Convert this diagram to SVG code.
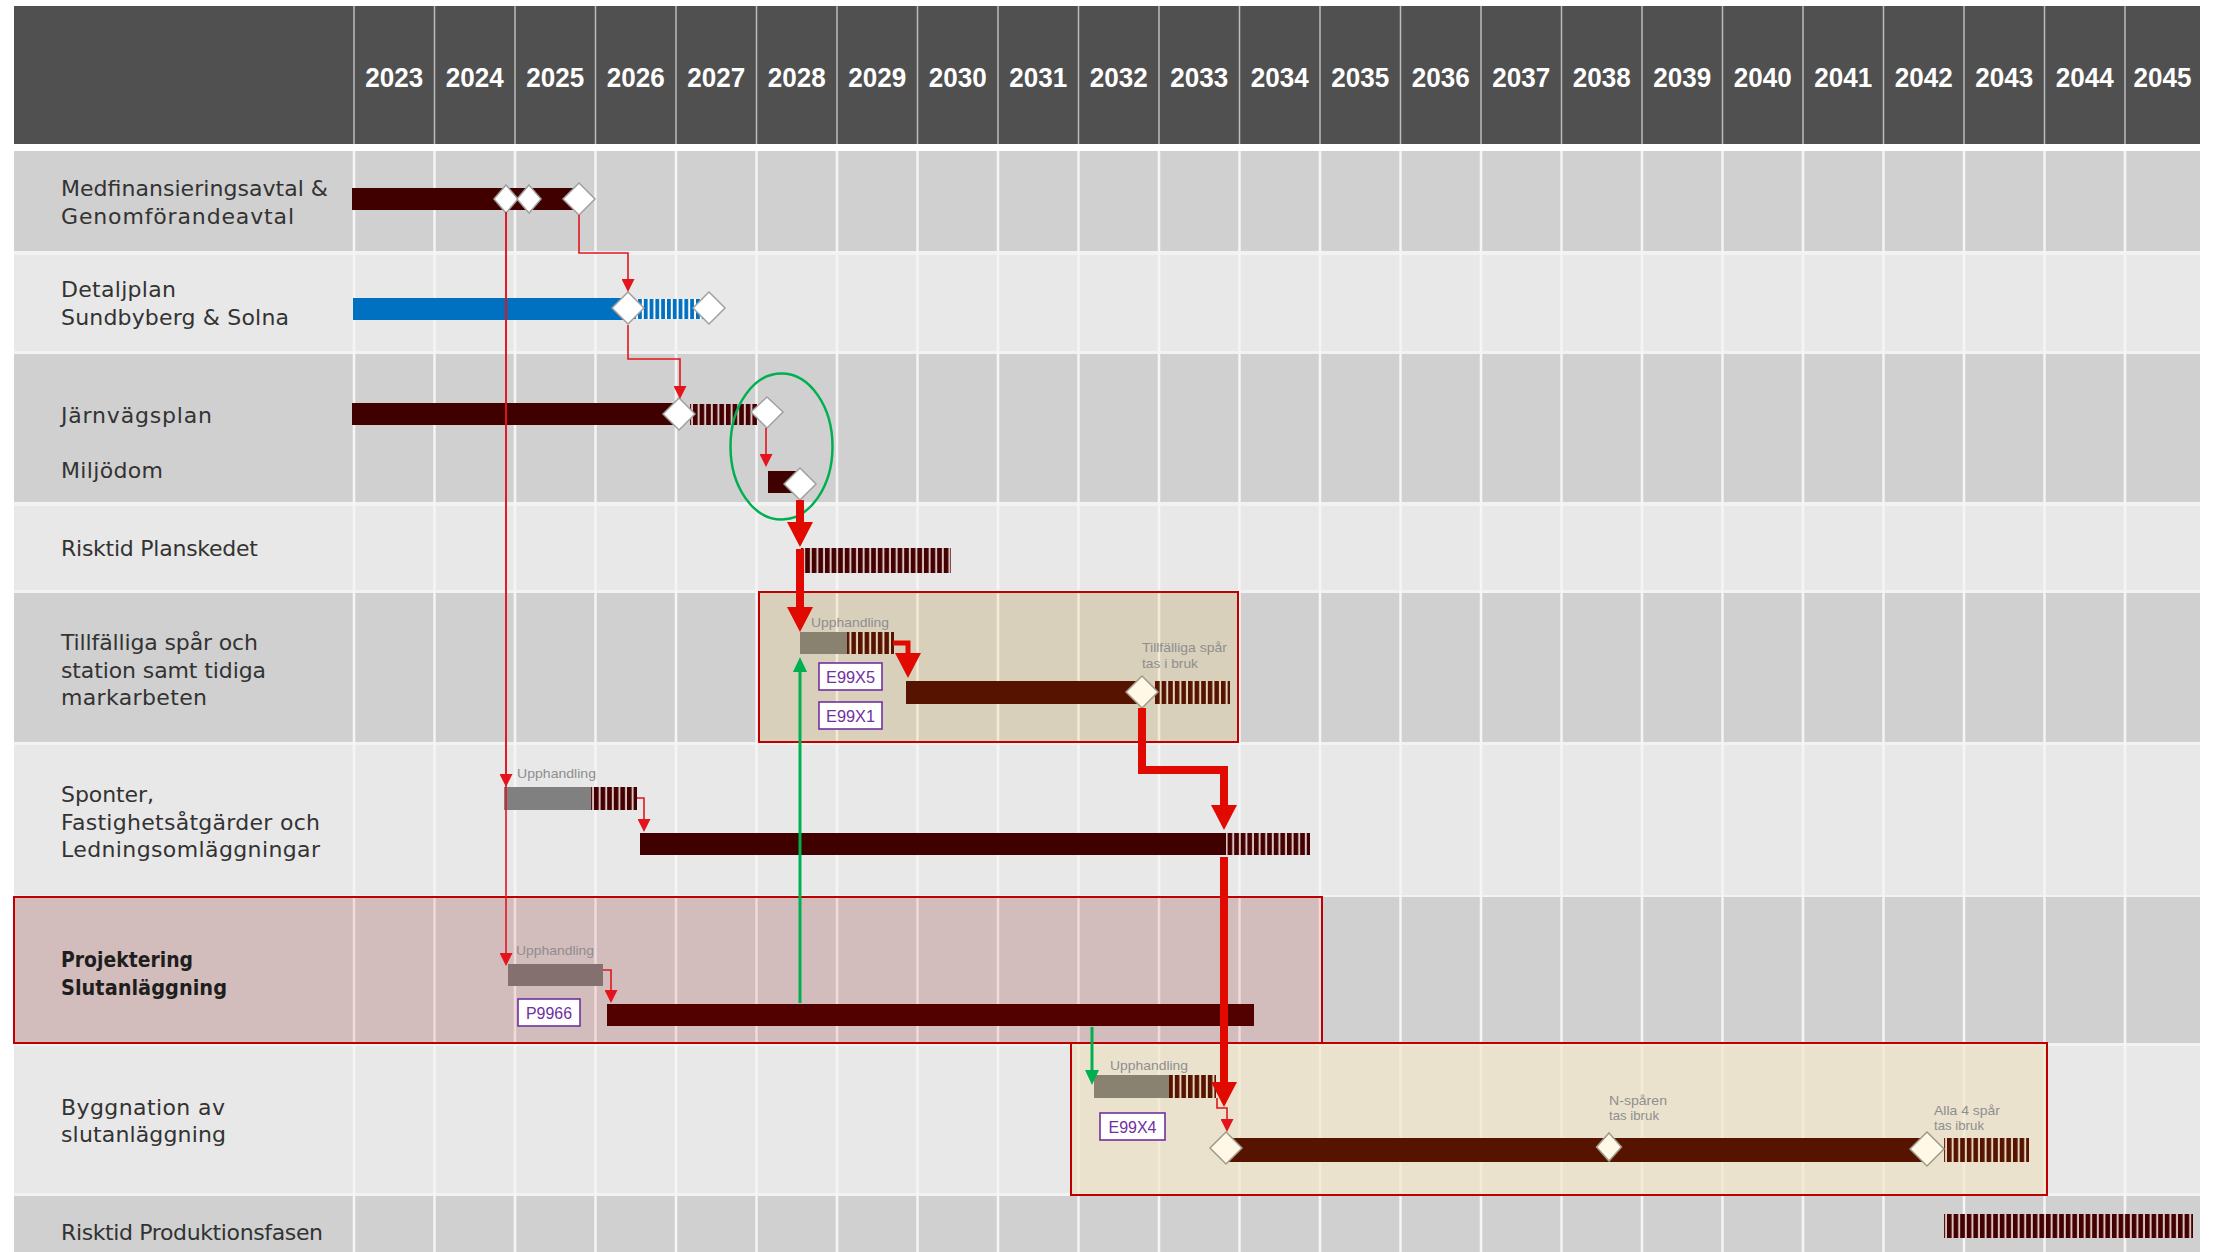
<svg xmlns="http://www.w3.org/2000/svg" width="2219" height="1252" viewBox="0 0 2219 1252">
<style>
.yr{font-family:"Liberation Sans",Arial,sans-serif;font-weight:bold;font-size:28px;fill:#ffffff;text-anchor:middle}
.lbl{font-family:"DejaVu Sans",Verdana,sans-serif;font-size:22px;fill:#333333}
.lblb{font-family:"DejaVu Sans",Verdana,sans-serif;font-size:22px;font-weight:bold;fill:#1e1e1e}
.sm{font-family:"Liberation Sans",Arial,sans-serif;font-size:13.5px;fill:#8e8e8e}
.code{font-family:"Liberation Sans Narrow","Liberation Sans",Arial,sans-serif;font-size:17px;fill:#7030a0;text-anchor:middle}
.codebox{fill:#ffffff;stroke:#7030a0;stroke-width:1.6}
.dia{fill:#ffffff;stroke:#a0a0a0;stroke-width:1.5}
.diac{fill:#fff8e6;stroke:#a09a88;stroke-width:1.5}
.bar{fill:#400000}
.barb{fill:#561400}
.thin{fill:none;stroke:#e3141c;stroke-width:1.6}
.thick{fill:none;stroke:#e00a00;stroke-width:8;stroke-linejoin:miter}
.mid{fill:none;stroke:#e00a00;stroke-width:5;stroke-linejoin:miter}
.green{fill:none;stroke:#00b050;stroke-width:3}
.grid{stroke:#f5f5f5;stroke-width:2.5}
.hgrid{stroke:#bdbdbd;stroke-width:1.5}
.box{stroke:#c00000;stroke-width:2}
</style>
<defs>
<marker id="aThin" viewBox="0 0 13 13" markerWidth="13" markerHeight="13" refX="0" refY="6.5" orient="auto" markerUnits="userSpaceOnUse"><path d="M0,0 L13,6.5 L0,13 z" fill="#e3141c"/></marker>
<marker id="aThick" viewBox="0 0 25 26" markerWidth="25" markerHeight="26" refX="0" refY="13" orient="auto" markerUnits="userSpaceOnUse"><path d="M0,0 L25,13 L0,26 z" fill="#e00a00"/></marker>
<marker id="aGreen" viewBox="0 0 15 14" markerWidth="15" markerHeight="14" refX="0" refY="7" orient="auto" markerUnits="userSpaceOnUse"><path d="M0,0 L15,7 L0,14 z" fill="#00b050"/></marker>
<pattern id="stD" patternUnits="userSpaceOnUse" width="6.6" height="60"><rect width="6.6" height="60" fill="#dcc2c2"/><rect width="4.6" height="60" fill="#420000"/></pattern>
<pattern id="stB" patternUnits="userSpaceOnUse" width="6.6" height="60"><rect width="6.6" height="60" fill="#e6d6c0"/><rect width="4.6" height="60" fill="#561400"/></pattern>
<pattern id="stBlue" patternUnits="userSpaceOnUse" width="5.8" height="60"><rect width="5.8" height="60" fill="#ffffff"/><rect width="3.8" height="60" fill="#0070c0"/></pattern>
</defs>

<rect x="0" y="0" width="2219" height="1252" fill="#ffffff"/>

<g id="header">
<rect x="14" y="6" width="2186" height="138" fill="#505050"/>
<g class="hgrid">
<line x1="354" y1="6" x2="354" y2="144"/><line x1="434.5" y1="6" x2="434.5" y2="144"/><line x1="515" y1="6" x2="515" y2="144"/><line x1="595.5" y1="6" x2="595.5" y2="144"/><line x1="676" y1="6" x2="676" y2="144"/><line x1="756.5" y1="6" x2="756.5" y2="144"/><line x1="837" y1="6" x2="837" y2="144"/><line x1="917.5" y1="6" x2="917.5" y2="144"/><line x1="998" y1="6" x2="998" y2="144"/><line x1="1078.5" y1="6" x2="1078.5" y2="144"/><line x1="1159" y1="6" x2="1159" y2="144"/><line x1="1239.5" y1="6" x2="1239.5" y2="144"/><line x1="1320" y1="6" x2="1320" y2="144"/><line x1="1400.5" y1="6" x2="1400.5" y2="144"/><line x1="1481" y1="6" x2="1481" y2="144"/><line x1="1561.5" y1="6" x2="1561.5" y2="144"/><line x1="1642" y1="6" x2="1642" y2="144"/><line x1="1722.5" y1="6" x2="1722.5" y2="144"/><line x1="1803" y1="6" x2="1803" y2="144"/><line x1="1883.5" y1="6" x2="1883.5" y2="144"/><line x1="1964" y1="6" x2="1964" y2="144"/><line x1="2044.5" y1="6" x2="2044.5" y2="144"/><line x1="2125" y1="6" x2="2125" y2="144"/>
</g>
<text class="yr" x="394.3" y="87" textLength="58" lengthAdjust="spacingAndGlyphs">2023</text>
<text class="yr" x="474.8" y="87" textLength="58" lengthAdjust="spacingAndGlyphs">2024</text>
<text class="yr" x="555.3" y="87" textLength="58" lengthAdjust="spacingAndGlyphs">2025</text>
<text class="yr" x="635.8" y="87" textLength="58" lengthAdjust="spacingAndGlyphs">2026</text>
<text class="yr" x="716.3" y="87" textLength="58" lengthAdjust="spacingAndGlyphs">2027</text>
<text class="yr" x="796.8" y="87" textLength="58" lengthAdjust="spacingAndGlyphs">2028</text>
<text class="yr" x="877.3" y="87" textLength="58" lengthAdjust="spacingAndGlyphs">2029</text>
<text class="yr" x="957.8" y="87" textLength="58" lengthAdjust="spacingAndGlyphs">2030</text>
<text class="yr" x="1038.3" y="87" textLength="58" lengthAdjust="spacingAndGlyphs">2031</text>
<text class="yr" x="1118.8" y="87" textLength="58" lengthAdjust="spacingAndGlyphs">2032</text>
<text class="yr" x="1199.3" y="87" textLength="58" lengthAdjust="spacingAndGlyphs">2033</text>
<text class="yr" x="1279.8" y="87" textLength="58" lengthAdjust="spacingAndGlyphs">2034</text>
<text class="yr" x="1360.3" y="87" textLength="58" lengthAdjust="spacingAndGlyphs">2035</text>
<text class="yr" x="1440.8" y="87" textLength="58" lengthAdjust="spacingAndGlyphs">2036</text>
<text class="yr" x="1521.3" y="87" textLength="58" lengthAdjust="spacingAndGlyphs">2037</text>
<text class="yr" x="1601.8" y="87" textLength="58" lengthAdjust="spacingAndGlyphs">2038</text>
<text class="yr" x="1682.3" y="87" textLength="58" lengthAdjust="spacingAndGlyphs">2039</text>
<text class="yr" x="1762.8" y="87" textLength="58" lengthAdjust="spacingAndGlyphs">2040</text>
<text class="yr" x="1843.3" y="87" textLength="58" lengthAdjust="spacingAndGlyphs">2041</text>
<text class="yr" x="1923.8" y="87" textLength="58" lengthAdjust="spacingAndGlyphs">2042</text>
<text class="yr" x="2004.3" y="87" textLength="58" lengthAdjust="spacingAndGlyphs">2043</text>
<text class="yr" x="2084.8" y="87" textLength="58" lengthAdjust="spacingAndGlyphs">2044</text>
<text class="yr" x="2162.5" y="87" textLength="58" lengthAdjust="spacingAndGlyphs">2045</text>
</g>

<g id="rows">
<rect x="14" y="151" width="2186" height="1101" fill="#f2f2f2"/>
<rect x="14" y="151" width="2186" height="100" fill="#d0d0d0"/>
<rect x="14" y="255" width="2186" height="96" fill="#e8e8e8"/>
<rect x="14" y="354" width="2186" height="148" fill="#d0d0d0"/>
<rect x="14" y="506" width="2186" height="84" fill="#e8e8e8"/>
<rect x="14" y="593" width="2186" height="149" fill="#d0d0d0"/>
<rect x="14" y="745" width="2186" height="150" fill="#e8e8e8"/>
<rect x="14" y="897" width="2186" height="146" fill="#d0d0d0"/>
<rect x="14" y="1046" width="2186" height="147" fill="#e8e8e8"/>
<rect x="14" y="1196" width="2186" height="56" fill="#d0d0d0"/>
<g class="grid">
<line x1="354" y1="151" x2="354" y2="1252"/><line x1="434.5" y1="151" x2="434.5" y2="1252"/><line x1="515" y1="151" x2="515" y2="1252"/><line x1="595.5" y1="151" x2="595.5" y2="1252"/><line x1="676" y1="151" x2="676" y2="1252"/><line x1="756.5" y1="151" x2="756.5" y2="1252"/><line x1="837" y1="151" x2="837" y2="1252"/><line x1="917.5" y1="151" x2="917.5" y2="1252"/><line x1="998" y1="151" x2="998" y2="1252"/><line x1="1078.5" y1="151" x2="1078.5" y2="1252"/><line x1="1159" y1="151" x2="1159" y2="1252"/><line x1="1239.5" y1="151" x2="1239.5" y2="1252"/><line x1="1320" y1="151" x2="1320" y2="1252"/><line x1="1400.5" y1="151" x2="1400.5" y2="1252"/><line x1="1481" y1="151" x2="1481" y2="1252"/><line x1="1561.5" y1="151" x2="1561.5" y2="1252"/><line x1="1642" y1="151" x2="1642" y2="1252"/><line x1="1722.5" y1="151" x2="1722.5" y2="1252"/><line x1="1803" y1="151" x2="1803" y2="1252"/><line x1="1883.5" y1="151" x2="1883.5" y2="1252"/><line x1="1964" y1="151" x2="1964" y2="1252"/><line x1="2044.5" y1="151" x2="2044.5" y2="1252"/><line x1="2125" y1="151" x2="2125" y2="1252"/>
</g>
</g>

<g id="phase-boxes">
<rect id="box-tillfalliga" class="box" x="759" y="592" width="479" height="150" fill="rgb(245,210,130)" fill-opacity="0.26"/>
<rect id="box-projektering" class="box" x="14" y="897" width="1308" height="146" fill="rgb(223,108,108)" fill-opacity="0.2"/>
<rect id="box-byggnation" class="box" x="1071" y="1043" width="976" height="152" fill="rgb(245,210,130)" fill-opacity="0.26"/>
</g>

<g id="labels">
<text class="lbl" x="61" y="196" textLength="267">Medfinansieringsavtal &amp;</text>
<text class="lbl" x="61" y="224" textLength="233">Genomförandeavtal</text>
<text class="lbl" x="61" y="297" textLength="115">Detaljplan</text>
<text class="lbl" x="61" y="325" textLength="228">Sundbyberg &amp; Solna</text>
<text class="lbl" x="61" y="423" textLength="151">Järnvägsplan</text>
<text class="lbl" x="61" y="478" textLength="102">Miljödom</text>
<text class="lbl" x="61" y="556" textLength="197">Risktid Planskedet</text>
<text class="lbl" x="61" y="650" textLength="197">Tillfälliga spår och</text>
<text class="lbl" x="61" y="678" textLength="205">station samt tidiga</text>
<text class="lbl" x="61" y="705" textLength="146">markarbeten</text>
<text class="lbl" x="61" y="802" textLength="93">Sponter,</text>
<text class="lbl" x="61" y="830" textLength="259">Fastighetsåtgärder och</text>
<text class="lbl" x="61" y="857" textLength="259">Ledningsomläggningar</text>
<text class="lblb" x="61" y="967" textLength="132" lengthAdjust="spacingAndGlyphs">Projektering</text>
<text class="lblb" x="61" y="995" textLength="166" lengthAdjust="spacingAndGlyphs">Slutanläggning</text>
<text class="lbl" x="61" y="1115" textLength="164">Byggnation av</text>
<text class="lbl" x="61" y="1142" textLength="165">slutanläggning</text>
<text class="lbl" x="61" y="1240" textLength="262">Risktid Produktionsfasen</text>
</g>

<g id="task-medfinansiering">
<rect class="bar" x="352" y="188" width="227" height="22"/>
<path class="dia" d="M506,185 L518,199 L506,213 L494,199 z"/>
<path class="dia" d="M529,185 L541,199 L529,213 L517,199 z"/>
<path class="dia" d="M579,183 L595,199 L579,215 L563,199 z"/>
</g>

<g id="task-detaljplan">
<rect x="353" y="298" width="275" height="22" fill="#0070c0"/>
<rect x="630" y="299" width="73" height="20" fill="url(#stBlue)"/>
<path class="dia" d="M628,292 L644,308 L628,324 L612,308 z"/>
<path class="dia" d="M709,292 L725,308 L709,324 L693,308 z"/>
</g>

<g id="task-jarnvagsplan">
<rect class="bar" x="352" y="403" width="327" height="22"/>
<rect x="690" y="404" width="67" height="21" fill="url(#stD)"/>
<path class="dia" d="M679,398 L695,414 L679,430 L663,414 z"/>
<path class="dia" d="M767,397 L783,412 L767,428 L751,412 z"/>
</g>

<g id="task-miljodom">
<rect class="bar" x="768" y="471" width="32" height="22"/>
<path class="dia" d="M800,468 L816,484 L800,500 L784,484 z"/>
<ellipse cx="781.5" cy="446.5" rx="51" ry="73" fill="none" stroke="#00b050" stroke-width="2.5"/>
</g>

<g id="task-risktid-plan">
<rect x="801" y="548" width="150" height="25" fill="url(#stD)"/>
</g>

<g id="task-tillfalliga">
<text class="sm" x="811" y="627" textLength="78" lengthAdjust="spacingAndGlyphs">Upphandling</text>
<rect x="800" y="632" width="47" height="22" fill="#8a8270"/>
<rect x="847" y="632" width="47" height="22" fill="url(#stB)"/>
<rect class="barb" x="906" y="681" width="236" height="23"/>
<rect x="1155" y="681" width="75" height="23" fill="url(#stB)"/>
<path class="diac" d="M1142,676 L1158,692 L1142,708 L1126,692 z"/>
<text class="sm" x="1142" y="652" font-size="13" textLength="85" lengthAdjust="spacingAndGlyphs">Tillfälliga spår</text>
<text class="sm" x="1142" y="668" font-size="13" textLength="56" lengthAdjust="spacingAndGlyphs">tas i bruk</text>
<rect class="codebox" x="819" y="663" width="63" height="27"/>
<text class="code" x="850.5" y="683" textLength="49" lengthAdjust="spacingAndGlyphs">E99X5</text>
<rect class="codebox" x="819" y="702" width="63" height="27"/>
<text class="code" x="850.5" y="722" textLength="49" lengthAdjust="spacingAndGlyphs">E99X1</text>
</g>

<g id="task-sponter">
<text class="sm" x="517" y="778" textLength="79" lengthAdjust="spacingAndGlyphs">Upphandling</text>
<rect x="504" y="787" width="87" height="23" fill="#808080"/>
<rect x="591" y="787" width="46" height="23" fill="url(#stD)"/>
<rect class="bar" x="640" y="833" width="586" height="22"/>
<rect x="1226" y="833" width="84" height="22" fill="url(#stD)"/>
</g>

<g id="task-projektering">
<text class="sm" x="516" y="955" textLength="78" lengthAdjust="spacingAndGlyphs">Upphandling</text>
<rect x="508" y="964" width="95" height="22" fill="#857070"/>
<rect class="codebox" x="518" y="999" width="62" height="27"/>
<text class="code" x="549" y="1019" textLength="46" lengthAdjust="spacingAndGlyphs">P9966</text>
<rect x="607" y="1004" width="647" height="22" fill="#520000"/>
</g>

<g id="task-byggnation">
<text class="sm" x="1110" y="1070" textLength="78" lengthAdjust="spacingAndGlyphs">Upphandling</text>
<rect x="1094" y="1075" width="75" height="23" fill="#8a8270"/>
<rect x="1169" y="1075" width="47" height="23" fill="url(#stB)"/>
<rect class="codebox" x="1100" y="1113" width="65" height="27"/>
<text class="code" x="1132.5" y="1133" textLength="48" lengthAdjust="spacingAndGlyphs">E99X4</text>
<rect class="barb" x="1226" y="1138" width="701" height="24"/>
<rect x="1944" y="1138" width="85" height="24" fill="url(#stB)"/>
<path class="diac" d="M1226,1132 L1242,1148 L1226,1164 L1210,1148 z"/>
<path class="diac" d="M1609,1133 L1621.5,1147 L1609,1161 L1596.5,1147 z"/>
<path class="diac" d="M1927,1132 L1944,1149 L1927,1166 L1910,1149 z"/>
<text class="sm" x="1609" y="1105" font-size="13" textLength="58" lengthAdjust="spacingAndGlyphs">N-spåren</text>
<text class="sm" x="1609" y="1120" font-size="13" textLength="50" lengthAdjust="spacingAndGlyphs">tas ibruk</text>
<text class="sm" x="1934" y="1115" font-size="13" textLength="66" lengthAdjust="spacingAndGlyphs">Alla 4 spår</text>
<text class="sm" x="1934" y="1130" font-size="13" textLength="50" lengthAdjust="spacingAndGlyphs">tas ibruk</text>
</g>

<g id="task-risktid-produktion">
<rect x="1944" y="1214" width="249" height="24" fill="url(#stD)"/>
</g>

<g id="connectors">
<path class="thin" d="M579,215 V253 H628 V279" marker-end="url(#aThin)"/>
<path class="thin" d="M628,325 V359 H680 V386" marker-end="url(#aThin)"/>
<path class="thin" d="M766,428 V454" marker-end="url(#aThin)"/>
<path class="thin" d="M506,212 V774" marker-end="url(#aThin)"/>
<path class="thin" d="M506,212 V953" marker-end="url(#aThin)"/>
<path class="thin" d="M637,798 H644 V819" marker-end="url(#aThin)"/>
<path class="thin" d="M603,970 H611 V990" marker-end="url(#aThin)"/>
<path class="thin" d="M1217,1098 V1108 H1227 V1119" marker-end="url(#aThin)"/>
<path class="thick" d="M800,500 V522" marker-end="url(#aThick)"/>
<path class="thick" d="M800,549 V607" marker-end="url(#aThick)"/>
<path class="mid" d="M893,643 H908 V653" marker-end="url(#aThick)"/>
<path class="thick" d="M1142,708 V770 H1224 V805" marker-end="url(#aThick)"/>
<path class="thick" d="M1224,857 V1082" marker-end="url(#aThick)"/>
<path class="green" d="M800,1003 V672" marker-end="url(#aGreen)"/>
<path class="green" d="M1092,1027 V1070" marker-end="url(#aGreen)"/>
</g>
</svg>
